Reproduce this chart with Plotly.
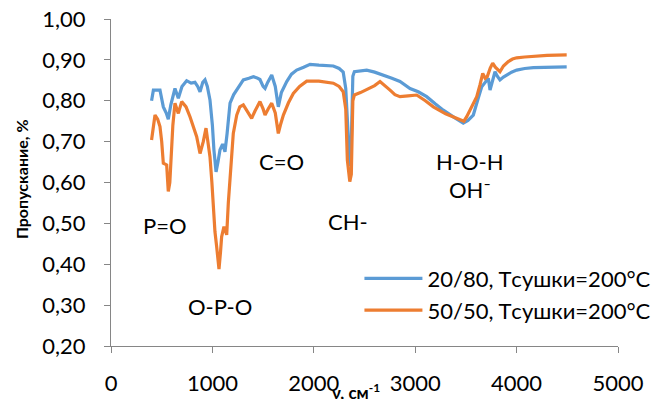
import plotly.graph_objects as go

# Series 1: 20/80, Tсушки=200°C
x_blue = [400, 418, 483, 516, 545, 565, 590, 631, 664, 700, 746, 790, 828, 855, 878, 905, 927, 950, 976,
          1000, 1015, 1036, 1055, 1075, 1101, 1124, 1145, 1174, 1210, 1240, 1305, 1360, 1404, 1440, 1469,
          1500, 1519, 1545, 1585, 1620, 1650, 1680, 1733, 1780, 1831, 1900, 1963, 2050, 2120, 2193, 2250,
          2290, 2315, 2335, 2355, 2370, 2385, 2400, 2522, 2600, 2686, 2770, 2850, 2949, 3030, 3113, 3200,
          3277, 3380, 3474, 3520, 3573, 3620, 3656, 3700, 3721, 3738, 3760, 3787, 3810, 3836, 3870, 3902,
          3950, 4001, 4080, 4165, 4300, 4494]
y_blue = [0.800, 0.826, 0.826, 0.785, 0.770, 0.755, 0.790, 0.830, 0.806, 0.835, 0.849, 0.843, 0.845, 0.835,
          0.822, 0.845, 0.851, 0.835, 0.802, 0.740, 0.680, 0.626, 0.650, 0.680, 0.694, 0.675, 0.720, 0.794,
          0.815, 0.826, 0.851, 0.855, 0.859, 0.856, 0.852, 0.835, 0.830, 0.845, 0.863, 0.835, 0.785, 0.820,
          0.847, 0.865, 0.875, 0.882, 0.889, 0.887, 0.886, 0.885, 0.879, 0.870, 0.830, 0.720, 0.640, 0.700,
          0.860, 0.871, 0.875, 0.870, 0.863, 0.855, 0.847, 0.830, 0.822, 0.810, 0.792, 0.777, 0.760, 0.745,
          0.752, 0.765, 0.805, 0.834, 0.848, 0.855, 0.826, 0.850, 0.871, 0.860, 0.851, 0.858, 0.863, 0.870,
          0.875, 0.879, 0.881, 0.882, 0.883]

# Series 2: 50/50, Tсушки=200°C
x_orange = [400, 420, 434, 460, 483, 500, 516, 549, 565, 580, 589, 610, 631, 664, 697, 740, 779, 810, 845,
            878, 910, 937, 955, 976, 995, 1009, 1025, 1042, 1065, 1080, 1091, 1114, 1141, 1157, 1174, 1190,
            1206, 1240, 1270, 1305, 1340, 1387, 1420, 1469, 1500, 1519, 1550, 1585, 1620, 1650, 1670, 1700,
            1750, 1798, 1860, 1930, 2050, 2193, 2250, 2290, 2315, 2331, 2355, 2370, 2385, 2400, 2460, 2522,
            2600, 2653, 2700, 2752, 2800, 2850, 2930, 3015, 3100, 3179, 3300, 3442, 3480, 3508, 3560, 3607,
            3640, 3666, 3690, 3711, 3740, 3764, 3790, 3804, 3836, 3870, 3918, 3960, 4001, 4080, 4165, 4300,
            4494]
y_orange = [0.704, 0.750, 0.765, 0.755, 0.737, 0.700, 0.647, 0.643, 0.578, 0.600, 0.643, 0.740, 0.794,
            0.769, 0.798, 0.785, 0.761, 0.740, 0.712, 0.671, 0.700, 0.733, 0.700, 0.663, 0.600, 0.530,
            0.480, 0.443, 0.388, 0.430, 0.467, 0.492, 0.472, 0.550, 0.620, 0.680, 0.720, 0.765, 0.785,
            0.790, 0.775, 0.757, 0.775, 0.798, 0.780, 0.765, 0.780, 0.794, 0.770, 0.720, 0.740, 0.765,
            0.795, 0.818, 0.835, 0.848, 0.848, 0.843, 0.835, 0.822, 0.780, 0.655, 0.602, 0.620, 0.800,
            0.814, 0.820, 0.828, 0.837, 0.847, 0.838, 0.826, 0.815, 0.810, 0.812, 0.814, 0.800, 0.785,
            0.768, 0.753, 0.750, 0.761, 0.785, 0.810, 0.840, 0.867, 0.855, 0.859, 0.880, 0.892, 0.882,
            0.879, 0.871, 0.885, 0.896, 0.902, 0.905, 0.907, 0.909, 0.911, 0.912]

series_names = ["20/80, Tсушки=200°C", "50/50, Tсушки=200°C"]
series_colors = ["#5B9BD5", "#ED7D31"]

# Band labels
label_texts = ["P=O", "O-P-O", "C=O", "CH-", "H-O-H", "OH⁻"]
label_x = [533, 1075, 1683, 2340, 3540, 3540]
label_y = [0.496, 0.297, 0.651, 0.504, 0.651, 0.582]

x_tickvals = [0, 1000, 2000, 3000, 4000, 5000]
y_tickvals = [0.2, 0.3, 0.4, 0.5, 0.6, 0.7, 0.8, 0.9, 1.0]
y_ticktext = ["0,20", "0,30", "0,40", "0,50", "0,60", "0,70", "0,80", "0,90", "1,00"]

FONT = "Lato"
axis_color = "#868686"

fig = go.Figure()
fig.add_trace(go.Scatter(x=x_blue, y=y_blue, mode="lines", name=series_names[0],
                         line=dict(color=series_colors[0], width=3.2)))
fig.add_trace(go.Scatter(x=x_orange, y=y_orange, mode="lines", name=series_names[1],
                         line=dict(color=series_colors[1], width=3.2)))

for t, x, y in zip(label_texts, label_x, label_y):
    fig.add_annotation(x=x, y=y, xref="x", yref="y", text=t, showarrow=False,
                       font=dict(family=FONT, size=22, color="#000000"))

fig.add_annotation(x=0.483, y=-0.098, xref="paper", yref="paper", yanchor="top",
                   text="<b>ν, см<sup>-1</sup></b>", showarrow=False,
                   font=dict(family=FONT, size=17, color="#000000"))
fig.add_annotation(x=-0.198, y=0.511, xref="paper", yref="paper", textangle=-90,
                   text="<b>Пропускание, %</b>", showarrow=False,
                   font=dict(family=FONT, size=16, color="#000000"))

fig.update_layout(
    template="none",
    width=667, height=399,
    margin=dict(l=111, r=49, t=19, b=53, autoexpand=False),
    paper_bgcolor="white", plot_bgcolor="white",
    font=dict(family=FONT, size=22, color="#000000"),
    showlegend=True,
    legend=dict(x=0.49, y=0.157, xanchor="left", yanchor="middle",
                bgcolor="rgba(0,0,0,0)", font=dict(family=FONT, size=22),
                itemwidth=58, tracegroupgap=0),
    xaxis=dict(range=[0, 5000], tickvals=x_tickvals, showgrid=False, zeroline=False,
               automargin=False,
               showline=True, linecolor=axis_color, linewidth=1,
               ticks="outside", ticklen=6, tickcolor=axis_color, tickwidth=1,
               tickfont=dict(family=FONT, size=22), ticklabelstandoff=12),
    yaxis=dict(range=[0.2, 1.0], tickvals=y_tickvals, ticktext=y_ticktext, showgrid=False,
               automargin=False,
               zeroline=False, showline=True, linecolor=axis_color, linewidth=1,
               ticks="outside", ticklen=6, tickcolor=axis_color, tickwidth=1,
               tickfont=dict(family=FONT, size=22), ticklabelstandoff=14),
)

fig.write_html("out.html")
